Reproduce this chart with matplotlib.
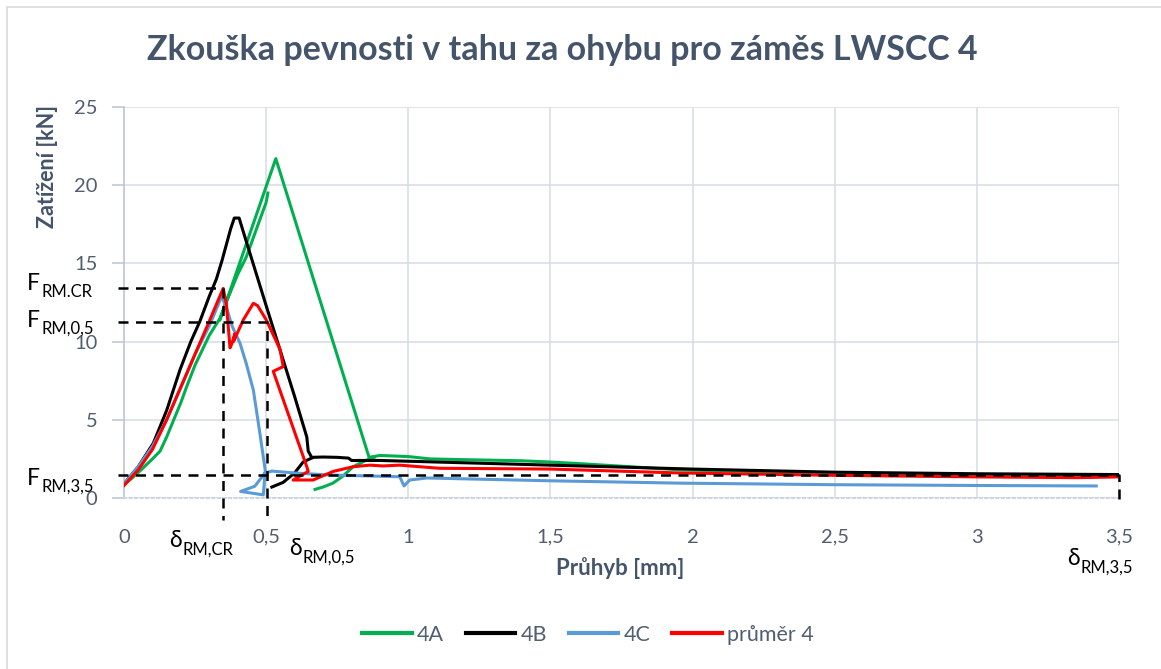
import numpy as np
import matplotlib
matplotlib.use("Agg")
import matplotlib.pyplot as plt
from matplotlib.patches import Rectangle

plt.rcParams['font.family'] = ['Lato', 'DejaVu Sans']

nan = np.nan

# 4A
x_4a = [0, 0.03, 0.06, 0.1, 0.127, 0.15, 0.2, 0.22, 0.25, 0.3, 0.338, 0.35, 0.4, 0.43, 0.45, 0.5, 0.506,
        nan, 0.338, 0.534, 0.862, 0.9, 1.0, 1.076, 1.2, 1.4, 1.5, 1.6, 1.78, 1.955, 2.2, 2.5, 3.0, 3.3, 3.5,
        nan, 0.672, 0.70, 0.735, 0.77, 0.806, 0.854, 0.88]
y_4a = [0.85, 1.3, 1.8, 2.5, 3.0, 3.9, 6.1, 7.1, 8.5, 10.4, 11.5, 12.1, 14.3, 15.4, 16.4, 18.9, 19.5,
        nan, 11.4, 21.7, 2.6, 2.72, 2.65, 2.5, 2.45, 2.38, 2.3, 2.2, 2.0, 1.8, 1.7, 1.6, 1.5, 1.48, 1.45,
        nan, 0.55, 0.7, 0.95, 1.4, 2.0, 2.43, 2.6]

# 4B
x_4b = [0, 0.05, 0.103, 0.15, 0.197, 0.235, 0.267, 0.3, 0.325, 0.345, 0.36, 0.375, 0.388, 0.405, 0.42,
        0.5, 0.6, 0.643, 0.648, 0.66, 0.7, 0.75, 0.79, 0.8, 0.9, 1.0, 1.2, 1.5, 1.8, 2.0, 2.5, 3.0, 3.5,
        nan, 0.52, 0.56, 0.6, 0.63, 0.66]
y_4b = [0.9, 2.0, 3.5, 5.6, 8.2, 10.0, 11.3, 12.9, 14.0, 15.2, 16.2, 17.2, 17.9, 17.9, 17.0,
        12.3, 6.5, 3.9, 3.0, 2.6, 2.62, 2.6, 2.55, 2.4, 2.4, 2.35, 2.25, 2.1, 1.95, 1.85, 1.65, 1.55, 1.5,
        nan, 0.7, 1.0, 1.6, 2.3, 2.55]

# 4C
x_4c = [0, 0.05, 0.1, 0.15, 0.208, 0.25, 0.3, 0.33, 0.343, 0.36, 0.38, 0.408, 0.43, 0.455, 0.475, 0.497,
        0.49, 0.41, 0.46, 0.496, 0.52, 0.6, 0.725, 0.97, 0.985, 1.005, 1.065, 1.5, 1.955, 2.5, 3.0, 3.42]
y_4c = [0.9, 2.0, 3.3, 5.0, 7.4, 9.2, 11.0, 12.3, 12.9, 12.2, 11.0, 9.9, 8.6, 6.9, 4.5, 1.75,
        0.2, 0.42, 0.75, 1.6, 1.72, 1.6, 1.47, 1.36, 0.77, 1.15, 1.28, 1.1, 0.95, 0.85, 0.8, 0.77]

# průměr 4
x_pr = [0, 0.05, 0.1, 0.15, 0.2, 0.25, 0.3, 0.33, 0.349, 0.36, 0.373, 0.38, 0.39, 0.385, 0.42, 0.455,
        0.47, 0.5, 0.549, 0.56, 0.525, 0.643, 0.648, 0.595, 0.665, 0.736, 0.806, 0.865, 0.91, 0.97,
        1.11, 1.5, 1.955, 2.5, 3.0, 3.35, 3.5]
y_pr = [0.8, 1.8, 3.1, 5.0, 7.1, 9.2, 11.3, 12.6, 13.4, 12.4, 9.6, 9.9, 10.5, 10.0, 11.4, 12.45,
        12.3, 11.4, 9.5, 8.4, 8.1, 2.0, 1.7, 1.15, 1.15, 1.7, 2.0, 2.1, 2.05, 2.1,
        1.9, 1.85, 1.6, 1.45, 1.35, 1.3, 1.35]

# characteristic values
f_cr, d_cr = 13.45, 0.349
f_05, d_05 = 11.25, 0.502
f_35, d_35 = 1.47, 3.5

W, H = 1161, 669
fig = plt.figure(figsize=(W / 100, H / 100), dpi=100)


def px(x, y):
    return x / W, 1 - y / H


fig.patches.append(Rectangle(px(7, 700), 2, (700 - 7) / H, transform=fig.transFigure,
                             fill=False, edgecolor='#D9D9D9', lw=1.2))

l, r = 124 / W, 1119 / W
b, t = 1 - 498 / H, 1 - 107 / H
ax = fig.add_axes([l, b, r - l, t - b])

ax.plot(x_4a, y_4a, color='#00B050', lw=2.2, label='4A', zorder=3)
ax.plot(x_4b, y_4b, color='#000000', lw=2.2, label='4B', zorder=3)
ax.plot(x_4c, y_4c, color='#5B9BD5', lw=2.2, label='4C', zorder=3)
ax.plot(x_pr, y_pr, color='#FF0000', lw=2.2, label='průměr 4', zorder=4)

dash = dict(color='black', lw=1.8, ls=(0, (4, 3)), clip_on=False, zorder=5)
ax.plot([-0.02, d_cr, d_cr], [f_cr, f_cr, -1.4], **dash)
ax.plot([-0.02, d_05, d_05], [f_05, f_05, -1.4], **dash)
ax.plot([-0.02, d_35, d_35], [f_35, f_35, -0.2], **dash)

ax.set_xlim(0, 3.5)
ax.set_ylim(0, 25)
ax.set_xticks(np.arange(0, 3.51, 0.5))
ax.set_yticks(np.arange(0, 26, 5))
ax.set_xticklabels(['0', '0,5', '1', '1,5', '2', '2,5', '3', '3,5'])
ax.grid(True, color='#D9DEE6', lw=1.2)
ax.set_axisbelow(True)
for s in ['top', 'right']:
    ax.spines[s].set_visible(False)
ax.spines['left'].set_color('#BFC8D6')
ax.spines['left'].set_linewidth(1.2)
ax.spines['bottom'].set_color('#D0D5DD')
ax.spines['bottom'].set_linestyle(':')
ax.spines['bottom'].set_linewidth(1.5)
tick_col = '#515E70'
ax.tick_params(axis='y', length=9, width=1.2, color='#BFC8D6', pad=10, labelsize=14.5, labelcolor=tick_col)
ax.tick_params(axis='x', length=0, pad=22, labelsize=14.5, labelcolor=tick_col)

fig.text(*px(562, 50), 'Zkouška pevnosti v tahu za ohybu pro záměs LWSCC 4', ha='center', va='center',
         fontsize=24.5, fontweight='bold', color='#44546A')
fig.text(*px(620, 568), 'Průhyb [mm]', ha='center', va='center', fontsize=16, fontweight='bold',
         color='#44546A')
fig.text(*px(47, 167), 'Zatížení [kN]', ha='center', va='center', rotation=90, fontsize=15.5,
         fontweight='bold', color='#44546A')


def sublabel(x, y, main, sub, dx, dy):
    fig.text(*px(x, y), main, ha='left', va='baseline', fontsize=16.5, color='black')
    fig.text(*px(x + dx, y + dy), sub, ha='left', va='baseline', fontsize=12, color='black')


sublabel(27, 290, 'F', 'RM.CR', 14, 7)
sublabel(27, 327, 'F', 'RM,0,5', 14, 7)
sublabel(27, 485, 'F', 'RM,3,5', 14, 7)
sublabel(169, 547, 'δ', 'RM,CR', 14, 8)
sublabel(289, 555, 'δ', 'RM,0,5', 14, 8)
sublabel(1067, 565, 'δ', 'RM,3,5', 14, 8)

leg = fig.legend(loc='center', bbox_to_anchor=px(588, 635), ncol=4, frameon=False, fontsize=15.5,
                 handlelength=2.3, handletextpad=0.25, columnspacing=1.0)
for txt in leg.get_texts():
    txt.set_color(tick_col)
for line in leg.get_lines():
    line.set_linewidth(3)

fig.savefig('out.png', dpi=100)
